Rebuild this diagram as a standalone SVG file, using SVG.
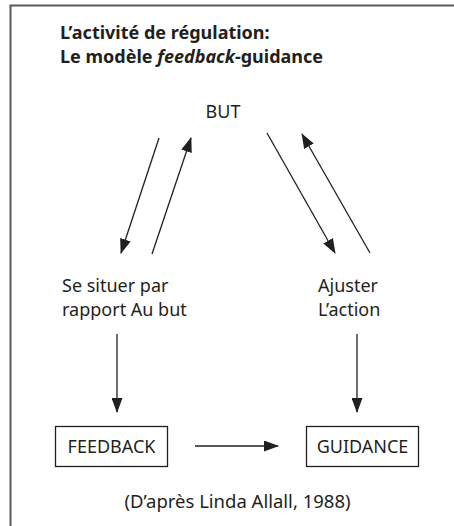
<svg xmlns="http://www.w3.org/2000/svg" width="454" height="526" viewBox="0 0 454 526">
  <style>
    text { font-family: "Noto Sans", "Open Sans", sans-serif; fill: #231f20; }
    .title { font-size: 18px; font-weight: bold; }
    .lbl { font-size: 18px; }
    .src { font-size: 18.5px; }
    .box { fill: #ffffff; stroke: #231f20; stroke-width: 1.3; }
    .conn { stroke: #231f20; stroke-width: 1.3; fill: none; marker-end: url(#head); }
  </style>
  <defs>
    <marker id="head" viewBox="0 0 15 11" refX="14" refY="5.5" markerWidth="15" markerHeight="11" markerUnits="userSpaceOnUse" orient="auto">
      <path d="M0,0 L15,5.5 L0,11 Z" fill="#231f20"/>
    </marker>
  </defs>

  <rect width="454" height="526" fill="#ffffff"/>

  <!-- outer frame (open to the right and bottom) -->
  <path d="M10.5,530 V5.5 H460" fill="none" stroke="#5a5a5a" stroke-width="2"/>

  <g id="title">
    <text class="title" x="60" y="39">L’activité de régulation:</text>
    <text class="title" x="60" y="63">Le modèle <tspan font-style="italic">feedback</tspan>-guidance</text>
  </g>

  <g id="but">
    <text class="lbl" x="223" y="118" text-anchor="middle">BUT</text>
  </g>

  <g id="se-situer">
    <text class="lbl" x="62" y="292">Se situer par</text>
    <text class="lbl" x="62" y="316">rapport Au but</text>
  </g>

  <g id="ajuster">
    <text class="lbl" x="318" y="292">Ajuster</text>
    <text class="lbl" x="318" y="316">L’action</text>
  </g>

  <g id="feedback">
    <rect class="box" x="55.5" y="426.5" width="112" height="40"/>
    <text class="lbl" x="111.5" y="453" text-anchor="middle">FEEDBACK</text>
  </g>

  <g id="guidance">
    <rect class="box" x="306.5" y="426.5" width="112" height="40"/>
    <text class="lbl" x="362.5" y="453" text-anchor="middle">GUIDANCE</text>
  </g>

  <g id="connectors">
    <line class="conn" x1="159" y1="138" x2="121" y2="253"/>
    <line class="conn" x1="152" y1="254" x2="191" y2="138"/>
    <line class="conn" x1="267" y1="133" x2="335" y2="253"/>
    <line class="conn" x1="370" y1="253" x2="302" y2="134"/>
    <line class="conn" x1="117" y1="334" x2="117" y2="412"/>
    <line class="conn" x1="357" y1="334" x2="357" y2="412"/>
    <line class="conn" x1="195" y1="446" x2="278" y2="446"/>
  </g>

  <g id="source">
    <text class="src" x="237.5" y="508" text-anchor="middle">(D’après Linda Allall, 1988)</text>
  </g>
</svg>
